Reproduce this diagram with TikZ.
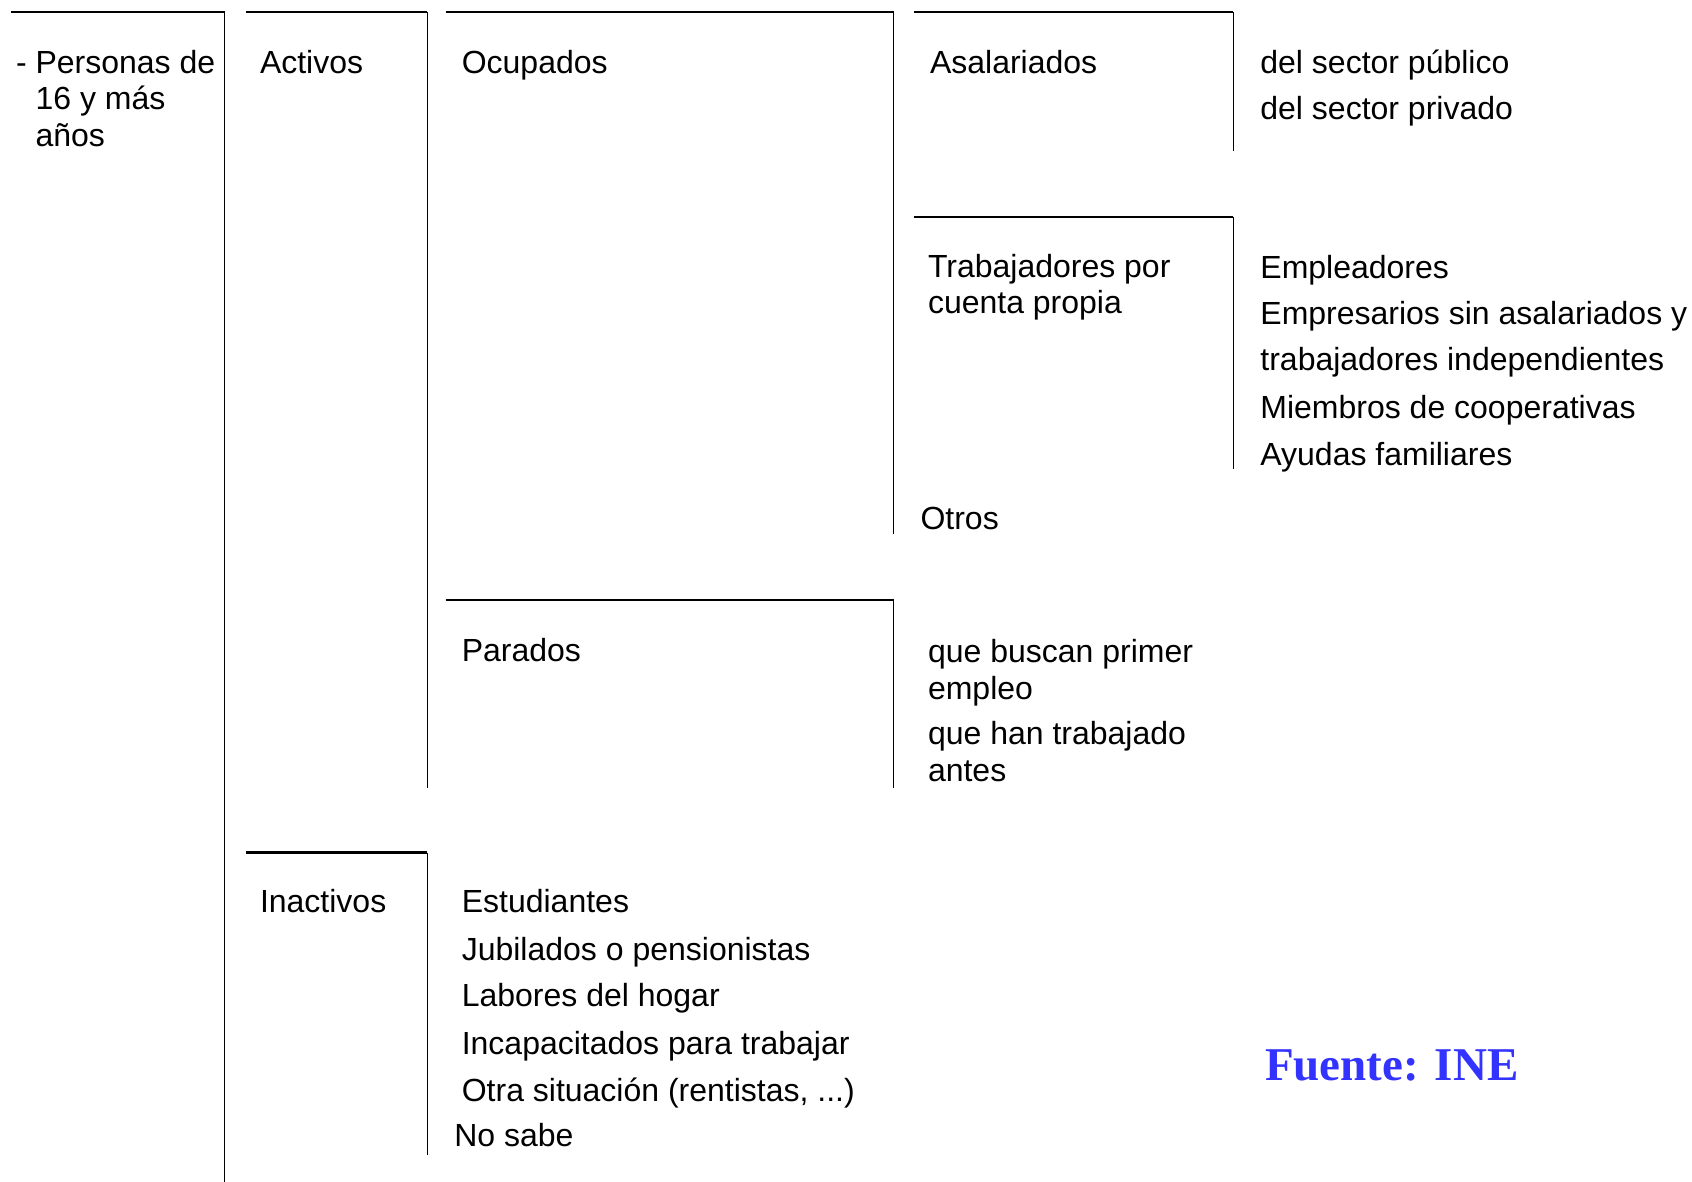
\documentclass[tikz,border=0pt]{standalone}
\usepackage{fontspec}
\setmainfont{Liberation Sans}
\newfontfamily\fuentefont{Liberation Serif}
\definecolor{fuenteblue}{RGB}{51,51,255}
\tikzset{
  hline/.style={black, line width=1.2pt},
  vline/.style={black, line width=0.75pt},
  lbl/.style={anchor=base west, inner sep=0pt, outer sep=0pt, align=left,
    yshift=-1pt, font=\fontsize{16}{18.3}\selectfont},
}

\begin{document}
\begin{tikzpicture}[x=0.5pt, y=-0.5pt]
        \useasboundingbox (0,0) rectangle (1692,1182);
        % brackets
        \draw[hline] (10.8,12) -- (224.5,12);
        \draw[vline] (224.5,12) -- (224.5,1182);
        \draw[hline] (246,12) -- (427.3,12);
        \draw[vline] (427.3,12) -- (427.3,787.7);
        \draw[hline] (445.7,12) -- (893.5,12);
        \draw[vline] (893.5,12) -- (893.5,534);
        \draw[hline] (914,12) -- (1233.4,12);
        \draw[vline] (1233.4,12) -- (1233.4,151);
        \draw[hline] (914,217) -- (1233.4,217);
        \draw[vline] (1233.4,217) -- (1233.4,469.4);
        \draw[hline] (445.7,600) -- (893.5,600);
        \draw[vline] (893.5,600) -- (893.5,787.7);
        \draw[hline] (246,852.5) -- (427.3,852.5);
        \draw[vline] (427.3,852.5) -- (427.3,1154.6);
        % first levels
        \node[lbl] (pers) at (35.6,144.6) {\llap{- }Personas de\\16 y más\\años};
        \node[lbl] (act) at (260,71.2) {Activos};
        \node[lbl] (ocup) at (461.8,71.2) {Ocupados};
        \node[lbl] (asal) at (930,71.2) {Asalariados};
        \node[lbl] (spub) at (1260.4,71.2) {del sector público};
        \node[lbl] (spriv) at (1260.4,117.6) {del sector privado};
        \node[lbl] (tcp) at (928,311.9) {Trabajadores por\\cuenta propia};
        \node[lbl] (empl) at (1260.4,276.2) {Empleadores};
        \node[lbl] (emps) at (1260.4,322.7) {Empresarios sin asalariados y};
        \node[lbl] (trind) at (1260.4,369) {trabajadores independientes};
        \node[lbl] (coop) at (1260.4,416.5) {Miembros de cooperativas};
        \node[lbl] (ayud) at (1260.4,463) {Ayudas familiares};
        \node[lbl] (otros) at (920.5,527.7) {Otros};
        % parados
        \node[lbl] (parad) at (461.8,659.3) {Parados};
        \node[lbl] (bprim) at (928,697) {que buscan primer\\empleo};
        \node[lbl] (hant) at (928,779) {que han trabajado\\antes};
        % inactivos
        \node[lbl] (inact) at (260,910.8) {Inactivos};
        \node[lbl] (estud) at (461.8,910.8) {Estudiantes};
        \node[lbl] (jubil) at (461.8,958.2) {Jubilados o pensionistas};
        \node[lbl] (hogar) at (461.8,1004.6) {Labores del hogar};
        \node[lbl] (incap) at (461.8,1052.1) {Incapacitados para trabajar};
        \node[lbl] (otra) at (461.8,1099.6) {Otra situación (rentistas, ...)};
        \node[lbl] (nosabe) at (454.3,1144.9) {No sabe};
        \node[anchor=base west, inner sep=0pt, text=fuenteblue,
          font=\fuentefont\bfseries\fontsize{23.5}{26}\selectfont] (fuente) at (1264.7,1080) {Fuente: INE};
\end{tikzpicture}
\end{document}
